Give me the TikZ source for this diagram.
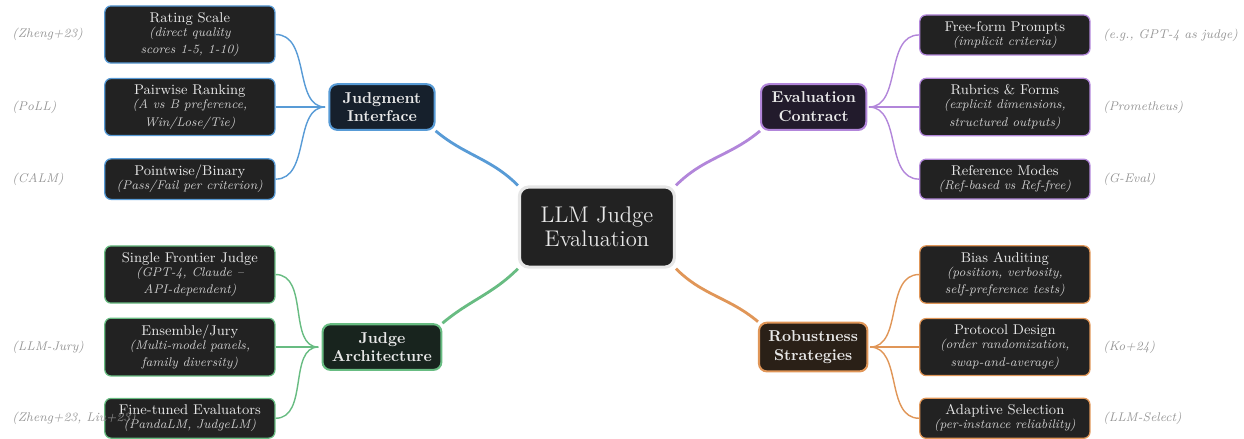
\documentclass[tikz,border=0pt]{standalone}
\usepackage{tikz}
\definecolor{BoxFill}{RGB}{34,34,34}
\definecolor{RootEdge}{RGB}{230,230,230}
\definecolor{TextLight}{RGB}{232,232,232}
\definecolor{DetailGray}{RGB}{205,205,205}
\definecolor{CiteGray}{RGB}{150,150,150}
\definecolor{IfaceBlue}{RGB}{88,155,214}
\definecolor{IfaceFill}{RGB}{22,32,44}
\definecolor{ContractPurple}{RGB}{178,134,218}
\definecolor{ContractFill}{RGB}{34,27,44}
\definecolor{ArchGreen}{RGB}{104,188,130}
\definecolor{ArchFill}{RGB}{24,36,30}
\definecolor{RobustOrange}{RGB}{224,150,88}
\definecolor{RobustFill}{RGB}{42,32,23}
\newcommand{\detail}[1]{{\footnotesize\itshape\color{DetailGray}#1}}

\begin{document}
\begin{tikzpicture}[
    root/.style={draw=RootEdge, line width=2pt, fill=BoxFill, rounded corners=6pt, align=center, text=TextLight, font=\Large, minimum width=3.46cm, minimum height=1.79cm},
    branch/.style={line width=1.3pt, rounded corners=5pt, align=center, text=TextLight, font=\bfseries, inner xsep=6pt, inner ysep=5pt, minimum width=2.35cm},
    leaf/.style={line width=0.8pt, fill=BoxFill, rounded corners=4pt, align=center, text=TextLight, font=\small, minimum width=3.8cm, inner ysep=4pt},
    cite/.style={anchor=west, inner xsep=0pt, text=CiteGray, font=\footnotesize\itshape},
    trunk/.style={line width=1.8pt},
    twig/.style={line width=0.9pt}
]
    \useasboundingbox (-13.33,-4.73) rectangle (14.45,5.07);

    % Central concept
    \node[root] (judge) at (0,0) {LLM Judge\\[-3pt]Evaluation};

    % Branches
    \node[branch, draw=IfaceBlue, fill=IfaceFill] (interface) at (-4.8,2.68) {Judgment\\Interface};
    \node[branch, draw=ContractPurple, fill=ContractFill] (contract) at (4.84,2.68) {Evaluation\\Contract};
    \node[branch, draw=ArchGreen, fill=ArchFill] (architecture) at (-4.8,-2.68) {Judge\\Architecture};
    \node[branch, draw=RobustOrange, fill=RobustFill] (robust) at (4.83,-2.68) {Robustness\\Strategies};

    % Judgment interface leaves
    \node[leaf, draw=IfaceBlue] (rate) at (-9.09,4.3) {Rating Scale\\[-2pt]\detail{(direct quality}\\\detail{scores 1-5, 1-10)}};
    \node[leaf, draw=IfaceBlue] (pair) at (-9.09,2.68) {Pairwise Ranking\\[-2pt]\detail{(A vs B preference,}\\\detail{Win/Lose/Tie)}};
    \node[leaf, draw=IfaceBlue] (point) at (-9.09,1.07) {Pointwise/Binary\\[-2pt]\detail{(Pass/Fail per criterion)}};

    % Evaluation contract leaves
    \node[leaf, draw=ContractPurple] (free) at (9.11,4.29) {Free-form Prompts\\[-2pt]\detail{(implicit criteria)}};
    \node[leaf, draw=ContractPurple] (rubric) at (9.11,2.68) {Rubrics \& Forms\\[-2pt]\detail{(explicit dimensions,}\\\detail{structured outputs)}};
    \node[leaf, draw=ContractPurple] (refmode) at (9.11,1.07) {Reference Modes\\[-2pt]\detail{(Ref-based vs Ref-free)}};

    % Judge architecture leaves
    \node[leaf, draw=ArchGreen] (single) at (-9.09,-1.06) {Single Frontier Judge\\[-2pt]\detail{(GPT-4, Claude --}\\\detail{API-dependent)}};
    \node[leaf, draw=ArchGreen] (jury) at (-9.09,-2.68) {Ensemble/Jury\\[-2pt]\detail{(Multi-model panels,}\\\detail{family diversity)}};
    \node[leaf, draw=ArchGreen] (tuned) at (-9.09,-4.27) {Fine-tuned Evaluators\\[-2pt]\detail{(PandaLM, JudgeLM)}};

    % Robustness leaves
    \node[leaf, draw=RobustOrange] (bias) at (9.11,-1.06) {Bias Auditing\\[-2pt]\detail{(position, verbosity,}\\\detail{self-preference tests)}};
    \node[leaf, draw=RobustOrange] (protocol) at (9.11,-2.68) {Protocol Design\\[-2pt]\detail{(order randomization,}\\\detail{swap-and-average)}};
    \node[leaf, draw=RobustOrange] (adaptive) at (9.11,-4.27) {Adaptive Selection\\[-2pt]\detail{(per-instance reliability)}};

    % Trunk connections
    \draw[trunk, IfaceBlue] (interface.south east) to[out=-40,in=135] (judge.north west);
    \draw[trunk, ContractPurple] (contract.south west) to[out=-140,in=45] (judge.north east);
    \draw[trunk, ArchGreen] (architecture.north east) to[out=40,in=-135] (judge.south west);
    \draw[trunk, RobustOrange] (robust.north west) to[out=140,in=-45] (judge.south east);

    % Leaf connections
    \foreach \leafname in {rate,pair,point}
        \draw[twig, IfaceBlue, shorten >=2pt] (\leafname.east) to[out=0,in=180] (interface.west);
    \foreach \leafname in {single,jury,tuned}
        \draw[twig, ArchGreen, shorten >=2pt] (\leafname.east) to[out=0,in=180] (architecture.west);
    \foreach \leafname in {free,rubric,refmode}
        \draw[twig, ContractPurple, shorten <=1pt] (contract.east) to[out=0,in=180] (\leafname.west);
    \foreach \leafname in {bias,protocol,adaptive}
        \draw[twig, RobustOrange, shorten <=1pt] (robust.east) to[out=0,in=180] (\leafname.west);

    % Citations
    \node[cite] (citerate) at (-13.06,4.3) {(Zheng+23)};
    \node[cite] (citepair) at (-13.06,2.68) {(PoLL)};
    \node[cite] (citepoint) at (-13.06,1.07) {(CALM)};
    \node[cite] (citejury) at (-13.06,-2.68) {(LLM-Jury)};
    \node[cite] (citetuned) at (-13.06,-4.27) {(Zheng+23, Liu+23)};
    \node[cite] (citefree) at (11.3,4.29) {(e.g., GPT-4 as judge)};
    \node[cite] (citerubric) at (11.3,2.68) {(Prometheus)};
    \node[cite] (citeref) at (11.3,1.07) {(G-Eval)};
    \node[cite] (citeprotocol) at (11.3,-2.68) {(Ko+24)};
    \node[cite] (citeadaptive) at (11.3,-4.27) {(LLM-Select)};
\end{tikzpicture}
\end{document}
